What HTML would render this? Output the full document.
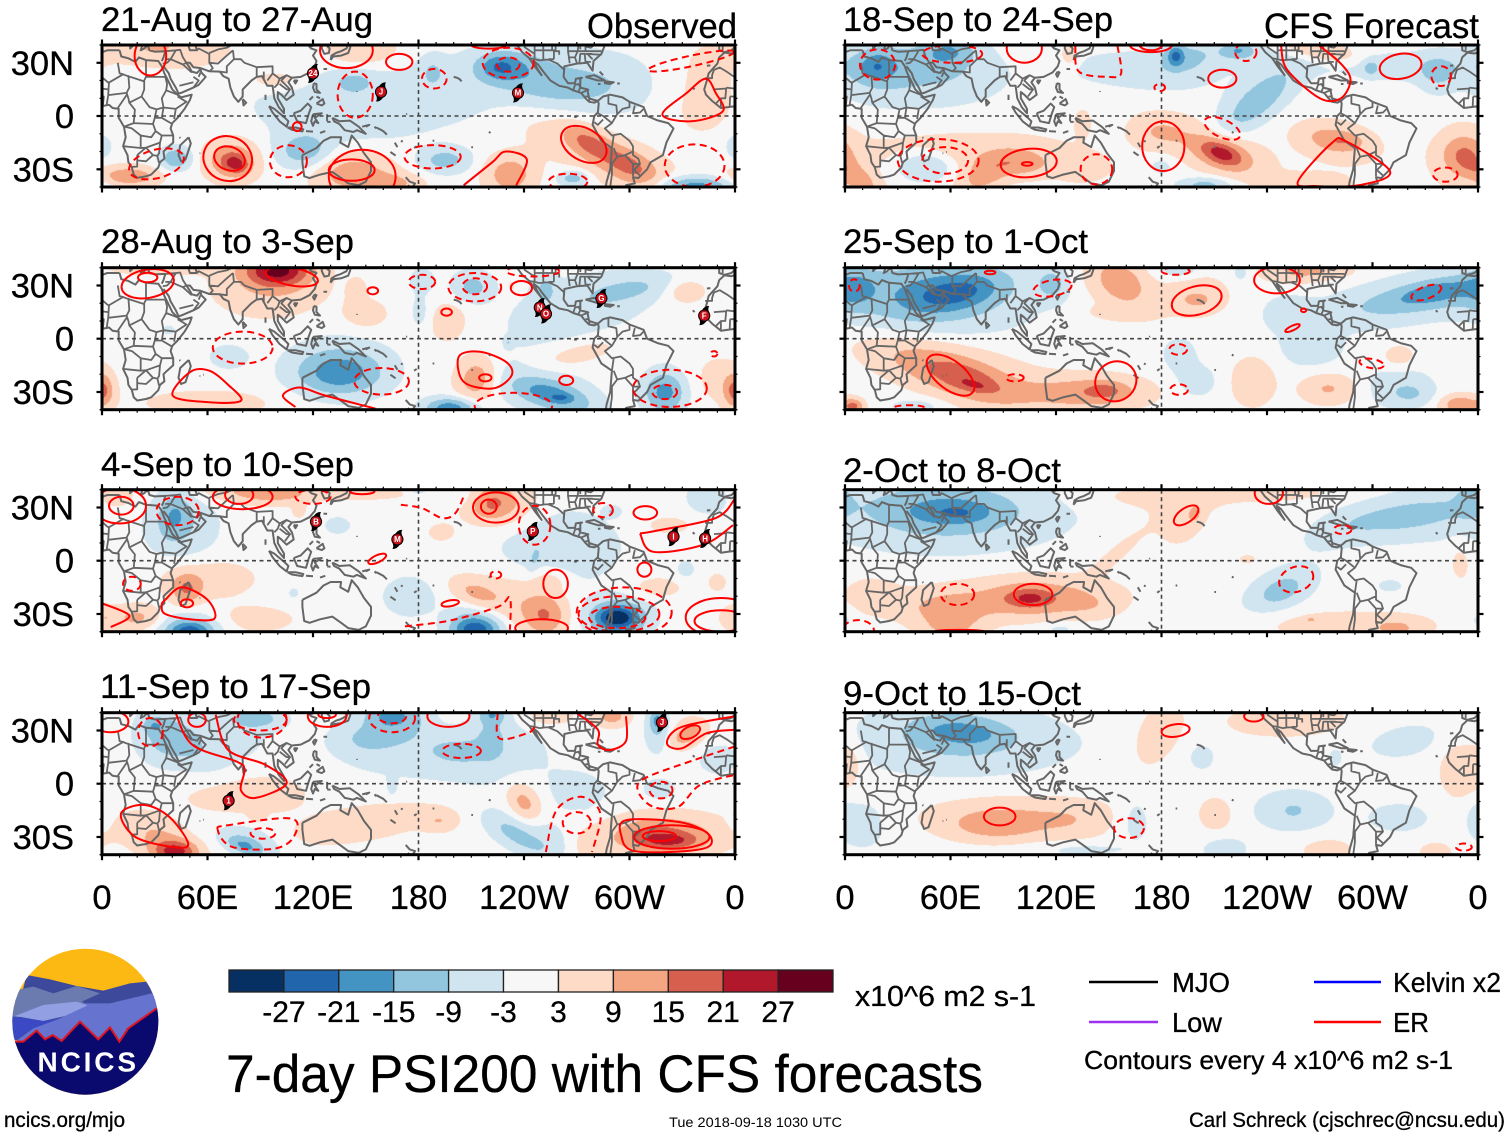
<!DOCTYPE html>
<html lang="en">
<head>
<meta charset="utf-8">
<title>7-day PSI200 with CFS forecasts</title>
<style>
html,body{margin:0;padding:0;background:#fff;}
#stage{position:relative;width:1510px;height:1137px;overflow:hidden;background:#fff;font-family:"Liberation Sans",sans-serif;}
#stage canvas{position:absolute;display:block;}
#overlay{position:absolute;left:0;top:0;}
#overlay text{font-family:"Liberation Sans",sans-serif;fill:#000;stroke:#000;stroke-width:.3;}
</style>
</head>
<body>
<div id="stage">
<svg id="overlay" width="1510" height="1137" viewBox="0 0 1510 1137" xmlns="http://www.w3.org/2000/svg">
  <defs>
    <clipPath id="logo-clip"><circle cx="85.3" cy="1021.7" r="73"/></clipPath>
  </defs>
  <g id="maps"></g>

  <text x="101" y="31" font-size="34" textLength="272" lengthAdjust="spacingAndGlyphs">21-Aug to 27-Aug</text>
  <text x="101" y="253" font-size="34" textLength="253" lengthAdjust="spacingAndGlyphs">28-Aug to 3-Sep</text>
  <text x="101" y="476" font-size="34" textLength="253" lengthAdjust="spacingAndGlyphs">4-Sep to 10-Sep</text>
  <text x="100" y="698" font-size="34" textLength="271" lengthAdjust="spacingAndGlyphs">11-Sep to 17-Sep</text>
  <text x="843" y="31" font-size="34" textLength="270" lengthAdjust="spacingAndGlyphs">18-Sep to 24-Sep</text>
  <text x="843" y="253" font-size="34" textLength="245" lengthAdjust="spacingAndGlyphs">25-Sep to 1-Oct</text>
  <text x="843" y="482" font-size="34" textLength="218" lengthAdjust="spacingAndGlyphs">2-Oct to 8-Oct</text>
  <text x="843" y="705" font-size="34" textLength="238" lengthAdjust="spacingAndGlyphs">9-Oct to 15-Oct</text>
  <text x="587" y="38" font-size="35" textLength="150" lengthAdjust="spacingAndGlyphs">Observed</text>
  <text x="1264" y="38" font-size="35" textLength="215" lengthAdjust="spacingAndGlyphs">CFS Forecast</text>

  <g id="colorbar"></g>
  <text x="855" y="1006" font-size="29" textLength="181" lengthAdjust="spacingAndGlyphs">x10^6 m2 s-1</text>
  <text x="226" y="1092" font-size="53" textLength="757" lengthAdjust="spacingAndGlyphs">7-day PSI200 with CFS forecasts</text>

  <g>
    <line x1="1089" y1="982" x2="1158" y2="982" stroke="#000" stroke-width="2.5"/>
    <text x="1172" y="992" font-size="28" textLength="58" lengthAdjust="spacingAndGlyphs">MJO</text>
    <line x1="1089" y1="1022" x2="1158" y2="1022" stroke="#a030f0" stroke-width="2.5"/>
    <text x="1172" y="1032" font-size="28" textLength="50" lengthAdjust="spacingAndGlyphs">Low</text>
    <line x1="1314" y1="982" x2="1381" y2="982" stroke="#0000ff" stroke-width="2.5"/>
    <text x="1393" y="992" font-size="28" textLength="108" lengthAdjust="spacingAndGlyphs">Kelvin x2</text>
    <line x1="1314" y1="1022" x2="1381" y2="1022" stroke="#ff0000" stroke-width="2.5"/>
    <text x="1393" y="1032" font-size="28" textLength="36" lengthAdjust="spacingAndGlyphs">ER</text>
    <text x="1084" y="1069" font-size="26" textLength="369" lengthAdjust="spacingAndGlyphs">Contours every 4 x10^6 m2 s-1</text>
  </g>

  <g clip-path="url(#logo-clip)">
    <g transform="translate(0,940) scale(0.3333)">
      <rect x="20" y="10" width="480" height="470" fill="#fdb913"/>
      <path d="M30,300 L80,105 L150,118 L230,138 L310,152 L390,130 L440,125 L490,200 L490,300Z" fill="#3d4a9c"/>
      <path d="M30,228 L50,150 L100,140 L160,160 L230,138 L300,160 L245,185 L265,195 L50,232Z" fill="#6b7bb0"/>
      <path d="M45,228 L130,195 L230,185 L265,197 L230,220 L130,243 Z" fill="#929fe2"/>
      <path d="M245,190 L330,190 L465,158 L490,210 L380,265 L360,310 L100,300 L45,305 L100,265 L180,235 L265,195Z" fill="#6674d0"/>
      <path d="M30,228 L130,243 L175,237 L100,265 L45,300 L30,290Z" fill="#3b49c5"/>
      <path d="M30,305 L70,305 L110,272 L135,298 L158,285 L185,303 L240,245 L295,298 L330,262 L358,305 L385,265 L470,205 L500,195 L500,480 L20,480Z" fill="#0a0a6e"/>
      <path d="M30,305 L70,305 L110,272 L135,298 L158,285 L185,303 L240,245 L295,298 L330,262 L358,305 L385,265 L470,205" fill="none" stroke="#e0141e" stroke-width="6"/>
    </g>
    <text x="37.5" y="1071.5" font-size="28" font-weight="bold" textLength="98.5" style="fill:#fff;stroke:none">NCICS</text>
  </g>

  <text x="4" y="1127" font-size="21" textLength="121" lengthAdjust="spacingAndGlyphs">ncics.org/mjo</text>
  <text x="669" y="1127" font-size="14" textLength="173" lengthAdjust="spacingAndGlyphs" style="stroke:none">Tue 2018-09-18 1030 UTC</text>
  <text x="1189" y="1127" font-size="21" textLength="316" lengthAdjust="spacingAndGlyphs">Carl Schreck (cjschrec@ncsu.edu)</text>
</svg>
</div>

<script>
/* ---------- colour scale ---------- */
const levelBounds = [-27,-21,-15,-9,-3,3,9,15,21,27];
const levelColors = ['#053061','#2166ac','#4393c3','#92c5de','#d1e5f0','#f7f7f7','#fddbc7','#f4a582','#d6604d','#b2182b','#67001f'];
const colorbarTicks = ['-27','-21','-15','-9','-3','3','9','15','21','27'];
const xTickLon = [0,60,120,180,240,300,360];
const xTickLabels = ['0','60E','120E','180','120W','60W','0'];
const yTickLat = [30,0,-30];
const yTickLabels = ['30N','0','30S'];

/* ---------- PSI200 anomaly centres: lon, lat, sigma-lon, sigma-lat, tilt, amplitude ---------- */
const fieldP1 = [
[74,-25,10.5,8,0,13],[76,-27,5,3.5,15,13],[15,-34,12,4,0,12],[42,-24,6,4.4,0,-13],[115,-20,11,7,0,-11],[140,5,35,13,0,-6.5],
[143,20,8,4,0,-6],[148,37,14,6,0,7],[40,37,25,8,0,5],[30,40,6,3,0,7],[100,20,12,4,0,5],[226,28,8,5,0,-12],[235,27,15,7,0,-7],
[265,17,18,6,0,-6],[255,18,50,14,0,-6.5],[188,25,5,6,0,-6],[195,-25,10,5,0,-10],[142,-32,16,8,0,11],[165,-38,12,4,0,8],
[277,-15,10,5,30,11],[300,-28,12,6,25,11],[280,-20,40,10,25,6],[232,-33,10,8,0,11],[268,-35,6,3,0,-11],[337,-40,14,4,0,-18],
[340,15,18,20,0,4.5],[360,-17,4,5,0,-6]
];
const fieldP2 = [
[100,39,12,6,0,26],[95,30,22,12,0,7],[30,40,20,3,0,5],[150,14,9,6,0,5],[145,28,4,5,0,4],[197,10,8,9,20,5],[233,30,2,3,0,4],
[211,29,6,5,0,-6],[210,30,10,7,0,-4],[182,33,5,5,0,-5],[181,15,4,7,0,-4],[252,28,4,5,0,-8],[300,28,18,5,-10,-7],[270,15,30,15,-15,-5],
[231,-2,1.5,2,0,-6],[332,27,8,5,0,6],[135,-20,16,8,0,-12],[135,-15,20,11,0,-7],[72,-10,8,5,0,-5],[38,5,3,2,0,-4],
[257,-32,15,5,15,-11],[250,-28,22,9,15,-7],[261,-33,4,1.3,0,-7],[198,-39,10,4,0,-18],[320,-30,8,8,0,-16],[213,-22,8,9,20,12],
[270,-8,22,6,-15,5],[0,-30,4,6,0,8],[360,-28,5,7,0,7],[60,-36,30,6,0,4],[350,-22,10,10,0,3.5]
];
const fieldP3 = [
[41,26,6,9,10,-9],[45,20,14,13,0,-7],[8,37,8,5,0,5],[100,38,15,4,0,8],[80,40,20,5,0,6],[112,28,3,3,0,4],[134,20,6,4,0,-4],
[150,38,20,3,0,4],[221,32,8,6,0,7],[225,33,15,9,0,9],[193,16,6,4,0,4],[260,8,25,15,0,-5.5],[246,1,2,5,15,-5],[180,40,4,2,0,-5],
[207,36,8,5,0,-4],[345,36,8,6,0,-7],[290,28,3,2,0,-7],[322,20,10,4,0,4],[332,-5,4,4,0,-4],[350,-12,4,4,0,4],[48,-16,6,6,0,12],
[60,-10,20,8,0,5],[50,-40,8,4,0,-18],[50,-38,14,7,0,-8],[20,-32,10,5,0,9],[0,-32,6,5,0,6],[85,-33,20,6,0,4],[175,-20,12,9,0,-4.5],
[109,-18,2,2,0,-5],[213,-39,9,5,0,-20],[210,-35,10,8,0,-7],[212,-18,10,5,20,7],[235,-22,20,10,15,6],[252,-31,8,8,0,11],
[293,-32,8,4.5,0,-24],[293,-32,13,8,0,-11],[255,-10,8,5,0,4.5],[315,-15,12,5,0,4]
];
const fieldP4 = [
[29,33,4,3,0,-7],[35,25,10,9,30,-6],[45,25,15,7,35,-5],[60,25,25,12,0,-4],[87,37,10,4,0,-11],[165,39,10,5,0,-10],[165,34,14,8,0,-5],
[150,25,10,5,0,-5],[170,22,30,13,0,-4.5],[222,39,5,3,0,-9],[222,30,7,12,0,-5],[203,18,10,4,0,-5],[220,17,25,13,0,-4.5],[199,38,5,3,0,4],
[290,38,7,4,0,10],[255,38,10,4,0,5],[316,36,3,4,0,-11],[316,30,5,9,0,-7],[333,28,6,3,-25,8],[333,28,9,7,-25,5],[350,14,8,6,0,-5],
[317,-3,6,4,0,-6],[275,-10,1.5,2,0,-4],[270,-5,14,9,0,-4],[165,-2,2,4,0,-4],[240,-11,5,7,-35,7],[240,-11,9,11,-35,4],[192,-21,7,4,0,6],
[150,-22,35,8,-10,4.5],[88,-17,3,3,0,5],[80,-8,25,7,0,4.5],[93,-2,13,5,0,3],[236,-29,12,4,30,-6],[236,-25,15,9,30,-5],[81,-35,7,3,20,-10],
[85,-33,13,6,15,-7],[42,-38,8,4,0,17],[35,-33,15,8,30,9],[325,-32,10,3,0,10],[320,-30,17,8,0,7],[310,-30,10,5,0,5],[320,-28,28,8,0,7],
[255,-33,8,8,0,-4],[280,-36,8,6,0,4],[360,-19,3,5,0,-4]
];
const fieldP5 = [
[18,28,6,5,0,-8],[20,28,15,10,0,-8],[59,37,10,5,0,-9],[55,30,15,9,0,-5],[45,22,35,13,0,-5],[188,34,3,4,0,-14],[192,33,10,6,0,-7],
[224,37,6,3,0,-9],[220,36,15,5,0,-5],[150,27,15,5,0,-3.5],[180,25,25,9,0,-4.5],[235,8,16,6,-40,-6],[235,10,25,9,-40,-6],[299,27,3,3,0,-8],
[337,24,7,7,0,-7],[320,28,35,6,0,-4.5],[270,37,14,4,10,9],[128,34,4,5,0,5],[214,-21,8,4,20,13],[214,-21,15,7,20,8],[205,-17,28,10,20,5],
[277,-13,12,5,10,6],[285,-14,7,3,0,4],[280,-15,18,9,10,5],[353,-23,8,7,30,8],[350,-22,11,13,30,6],[265,-38,15,4,0,6],[8,-36,10,5,30,10],
[80,-33,12,6,-30,9],[102,-27,10,5,0,7],[70,-22,45,9,0,6],[46,-28,12,6,0,-11],[135,-30,10,5,0,5],[180,-28,6,4,0,-4],[205,-39,10,3,0,-10],
[135,-3,4,6,0,3.5],[178,-9,10,6,0,5]
];
const fieldP6 = [
[64,26,16,6,-10,-10],[55,27,30,11,-10,-9],[50,22,38,15,0,-7],[5,28,8,8,0,-8],[118,31,6,6,0,-9],[157,33,10,7,30,9],[155,28,18,10,30,4.5],
[155,15,12,3,0,4],[200,22,6,3,0,5],[200,24,14,9,0,5],[190,39,7,3,0,-7],[225,37,3,3,0,-5],[336,27,13,4,-10,-7],[330,24,30,6,-10,-7],
[320,22,40,10,-10,-5],[252,15,10,7,0,-4.5],[255,38,13,5,0,7],[275,38,12,3,0,5],[70,-23,14,6,18,6],[60,-20,28,8,18,8],[60,-15,40,11,15,6],
[74,-26,6,1.5,10,5],[148,-29,7,3,0,7],[145,-30,17,6,0,6],[130,-30,30,7,0,6],[5,-38,4,3,0,14],[350,-37,8,4,0,12],[232,-24,9,10,0,6],
[275,-28,11,6,0,8],[322,-31,8,4,0,-5],[315,-27,14,9,0,-5],[190,-8,7,7,0,-4.5],[200,-24,9,7,0,-4.5],[40,-38,10,3,0,-5],[315,-10,7,5,0,5],[265,-6,13,8,0,-4.5]
];
const fieldP7 = [
[64,27,10,3,0,-5],[60,28,22,7,0,-7],[55,30,35,13,0,-6],[60,25,50,15,0,-4.5],[318,25,20,5,-8,-6],[320,25,32,10,-10,-5],[355,36,6,8,0,-5],
[282,18,15,6,-20,-3],[199,26,3,4,30,6],[190,25,12,14,30,4],[155,5,15,4,-40,3.5],[180,36,30,5,0,4],[240,38,25,3,0,4.5],[105,-21,7,3,0,8],
[105,-20,14,5.5,0,5],[110,-23,25,7,0,6],[110,-18,35,9,0,4.5],[60,-28,14,7,0,5],[60,-38,12,6,0,7],[50,-25,30,7,0,4.5],[15,-17,10,6,0,4],
[140,-25,10,5,0,3],[229,1,4,2,0,4],[248,-17,9,5,-20,-5],[248,-16,16,8,-25,-6],[310,-14,6,3,0,-3.5],[265,-33,2,1,0,6],[285,-36,35,6,0,4.5],
[314,-38,10,4,0,6],[350,0,5,9,0,3.5],[360,-33,4,4,0,-3.5],[122,-38,8,2.5,0,-3.5]
];
const fieldP8 = [
[68,29,13,4,5,-6],[65,30,22,8,5,-5],[60,28,32,12,0,-4.5],[70,22,50,13,0,-4],[2,12,5,8,0,4.5],[178,28,9,15,30,5],[203,15,5,5,0,-4.5],
[240,35,18,6,0,4.5],[265,37,14,6,0,4.5],[350,10,10,14,0,5],[318,24,14,6,-10,-4.5],[279,15,3,4,0,-3.5],[255,-15,4,2.5,0,-5],[255,-15,17,9,0,-5],
[315,-19,13,6,0,-4.5],[360,-19,4,6,0,-4.5],[87,-24,16,5,0,5],[85,-23,24,7,0,6],[100,-15,38,7,0,4],[130,-22,15,7,0,4.5],[10,-23,10,10,0,-4.5],
[165,-20,7,10,0,-4],[135,-37,18,3,0,-3.5],[211,-17,7,7,0,5],[216,-37,9,5,0,-5],[274,-37,11,5,0,4.5],[336,-38,7,4,0,4.5]
];

/* ---------- ER contours as ellipses: lon, lat, radius-lon, radius-lat, tilt, dashed ---------- */
const ovalsP1 = [
[27.5,33.8,9,11,0,0],[139,37,15,10,0,0],[169,30.5,7.5,4.5,0,0],[144,12,10,13,0,1],[189,21,7,5.5,0,1],[231,30,14.5,8.5,0,1],[231,29,6.5,4,0,1],
[220,40,10,2,0,0],[335,31,25,3,-12,1],[111,-6,2.5,2.5,0,0],[71.5,-24,14,12.5,20,0],[72.5,-24,9,6.6,20,0],[106,-25.5,10.5,9,0,1],[31,-27,16,8,-15,1],
[148,-34,19,15,0,0],[142,-30.5,13,6,0,0],[188,-23,16,6.6,0,1],[274,-16,14,9,30,0],[265,-37,11,4.5,0,1],[337,-28,17,12,0,1]
];
const ovalsP2 = [
[26,31,15,8,-10,0],[26,34.5,5.5,2.7,0,0],[108,35,15,5,10,0],[182,32,7.5,4,0,1],[212,29,15,8,0,1],[212,29.5,7,4.5,0,1],[245,38,15,3,0,1],
[238.5,28.5,6,4,0,0],[154,27,3,2,0,0],[196,15,3,2,0,0],[80,-5,17,9,0,1],[159,-24,15.5,7.5,0,1],[218,-22,3.5,2,0,0],[264,-23.5,4,2.6,0,0],
[234,-38,22,7.5,0,1],[323,-28,21,10.5,0,1],[320,-30,7,4,0,1],[348,-8.5,2,1.5,0,1]
];
const ovalsP3 = [
[10,31,15,10,0,0],[11,31,7,5,0,0],[43,28,12,8,0,1],[80,36,17,7,0,0],[78,37,8,5,0,0],[120,36,10,4,0,1],[148,39,7,1.5,0,0],[224,30,13,8.5,0,0],
[220,30.5,4.5,4,0,0],[246,20,9,11,0,1],[285,28.5,5.5,4,0,1],[309,27,6.7,3.8,0,0],[156.5,1,5.5,2,-25,0],[224,-8,3,2,0,1],
[258,-13,7,8,0,0],[308.5,-5,4,4,0,0],[17,-13,5,4,0,1],[48.3,-24,3.5,2.3,0,0],[198,-24,5,1.7,-10,0],[250,-38,15,5,0,0],[294,-30,23,10,0,1],
[293,-32,16,6,0,1],[297,-29,27,14,0,1],[352,-34,15,6,0,0],[352,-32,20,11,0,0]
];
const ovalsP4 = [
[5,35,10,6,0,0],[27.5,29,7,8,0,1],[54,36,5,4,0,0],[90,36,15,6,0,1],[91,36,14,10,0,1],[128,38,11,6,0,0],[128,39,5,2,0,0],[165,37,13,8,0,1],
[165,38,8,4,0,1],[197,38,12,6,0,0],[204.5,18.5,11,4,0,1],[334.5,29,6,3.2,-25,0],[318,-3.6,6.5,4.7,0,1],[270,-22,8,6,0,1],[91.5,-28,7,3,0,1],
[324,-30,21.5,6.6,0,0],[317,-29.5,9.5,2.8,0,0]
];
const ovalsP5 = [
[18.5,29,10,8.5,0,1],[61,35,17,5,0,1],[102,38,10,8,0,0],[174,40,12,4,0,0],[174,41,7,4,0,0],[179,16,3,2,0,1],[228,36,6,5,0,1],[214.6,21,8,5,0,0],
[316,28,12,7,-10,0],[339,22.5,5.5,5.6,0,1],[214.6,-7,11,5,25,1],[181,-17,12,14,0,0],[53,-25,23,12,0,1],[57,-25,13,7.5,0,1],[104.5,-26.5,16,8,-5,0],
[103.6,-27,3,1,0,0],[143,-30,9,8.5,0,1],[341.4,-33,7,4,0,1]
];
const ovalsP6 = [
[5.3,30,3,3.5,0,1],[82.5,37.3,3,1,0,0],[118,28.5,11,4.5,-10,1],[188,38,8,2,0,1],[200,21.5,14.5,8,-15,0],[245.7,33,13,7.5,0,0],[260.8,16,1.5,1,0,0],
[254.5,6,4.5,1.3,-25,0],[330.6,26,9,3.5,-20,1],[189.5,-6,5,3,0,1],[190,-28.7,5,3,0,1],[299.5,-14,7,2.6,10,1],[96.6,-22,5,2,0,1],[36.5,-39,9,1.5,0,1],
[60,-20.5,16,8,38,0],[154,-24,12,11,-35,0]
];
const ovalsP7 = [
[241,38,8,6,0,0],[194,25.5,8,4,-35,0],[283,17.5,5,2.5,0,1],[256.6,-10.5,10,7,-20,1],[64,-19,9.5,6,0,1],[107,-19,11,6,0,0],[7.5,-39.5,9,6,0,1],[65,-40,15,1,0,0]
];
const ovalsP8 = [
[188,30,8,3.5,-8,0],[232.5,38,5.5,3,0,0],[88,-18.5,9,5,0,0],[161.5,-25,8.5,5.6,0,1],[352,-35.7,4.5,2,0,1]
];

/* ---------- ER contours as curves: dashed flag, then lon/lat vertices ---------- */
const curvesP1 = [
[0,[[318.7,.8],[332.6,13],[343.3,21],[349,13],[353,2.6],[335,-3],[318.7,.8]]],
[0,[[205.7,-39],[222,-26],[229.6,-20],[241.6,-24.5],[235.6,-39]]]
];
const curvesP2 = [
[0,[[40.2,-32],[50.2,-18.7],[61,-18],[71.8,-26],[79,-35],[60,-35.7],[40.2,-32]]],
[0,[[110,-38.5],[102.9,-32],[112.4,-27.5],[126.8,-32],[155.5,-39.4]]],
[0,[[203,-10],[215,-7.4],[229.7,-13],[233,-20.6],[222.6,-28],[205.7,-24.3],[203,-10]]]
];
const curvesP3 = [
[1,[[170,31.5],[182,29.6],[193.6,24],[201,26.8],[206,37]]],
[0,[[306,15.3],[316,17],[349,24],[360,35]]],
[0,[[306,15.3],[313.5,5],[342,9],[358.8,20]]],
[0,[[36,-22],[45.5,-15],[60,-22],[64,-32.6],[50,-33],[36,-30],[34,-25],[36,-22]]],
[0,[[0,-24],[15.5,-31],[5,-37.4]]],
[1,[[172.3,-37],[198.5,-33.6],[225,-26],[232,-21],[232,-39]]]
];
const curvesP4 = [
[0,[[41.9,39.8],[51.4,21.9],[76.5,12.5],[81,7.7],[79,-3.6],[87.3,-8],[105,.2],[93,10.6],[71.8,19],[64.6,38.9]]],
[1,[[225,39.8],[226,25.5],[242,28.5],[246,32]]],
[0,[[270,39.8],[282,30.4],[282,21.9],[289,19],[298,24],[298,38]]],
[0,[[360,38],[333.7,33.2],[324,28.5],[321.6,21.9],[330,20],[344,28.5],[360,30.4]]],
[1,[[360,21],[337,13.4],[308.6,3],[305,-4.5],[313.4,-13],[327.7,-13],[340,-.8],[360,5]]],
[1,[[252.4,-38.5],[258.4,-15],[272.7,-7.4],[283.5,-17],[278.7,-38.5]]],
[1,[[65.8,-26],[71.8,-23.4],[107.6,-19.6],[109,-30],[98,-36.6],[74,-35.6],[65.8,-26]]],
[0,[[10.8,-16.8],[24,-12],[38.3,-18.7],[49,-33.8],[40.6,-35.7],[19,-30],[10.8,-16.8]]],
[0,[[297.8,-20.6],[327.8,-21.5],[344.5,-28],[344.5,-35.7],[323,-38.5],[301.4,-37.6],[295.5,-30],[297.8,-20.6]]]
];
const curvesP5 = [
[1,[[131,39.4],[133,25],[150,22],[157,24],[155,39.4]]],
[0,[[248,39.4],[251.5,26],[270,10],[282,10],[287.5,20.5],[281.5,30],[270,39.4]]],
[0,[[257.6,-37],[276.8,-15.3],[285,-14.3],[310,-31.3],[293,-38.9],[268,-39.5],[257.6,-37]]]
];
const curvesP6 = [];
const curvesP7 = [];
const curvesP8 = [];

/* ---------- tropical cyclone tracks: lon, lat, label ---------- */
const stormsP1 = [[120,24,'24'],[158.7,13.6,'J'],[236.6,13,'M']];
const stormsP2 = [[249,17.6,'N'],[252.5,14,'O'],[284,22.7,'G'],[342.5,13,'F']];
const stormsP3 = [[121.7,22,'B'],[168,12,'M'],[245,16.5,'P'],[325,13.6,'I'],[343,12.5,'H']];
const stormsP4 = [[72,-9.6,'1'],[318.5,34.6,'J']];
const stormsP5 = [];
const stormsP6 = [];
const stormsP7 = [];
const stormsP8 = [];

/* ---------- geography (lon, lat) ---------- */
const coastLines = [
[[10,37],[11,33.5],[15,32.5],[19,30.5],[21,33],[25,31.5],[32,31],[34,28],[35.5,24],[37,21],[38.5,18],[40,15],[43,12],[45,10.5],[51,12],[50,9],[47,4],[43,-1],[40,-4],[39,-7],[40.5,-11],[40.5,-15],[37,-18],[35,-20],[35.5,-24],[33,-26],[32,-29],[28,-33],[25,-34],[20,-34.8],[18,-33],[17,-29],[15,-26],[14.5,-22],[12,-17],[13.5,-12],[12.5,-6],[9.5,-1],[9.5,4],[6,4.5],[4,6.3],[0,5.5],[-4,5],[-8,4.5],[-13,8.5],[-16.5,12],[-17.5,15],[-16,20],[-15,24],[-10,29.5],[-9,33],[-6,35.7],[-2,35.2],[3,37],[10,37]],
[[-9,40],[-9,37],[-6,36],[-2,37],[0,39],[0.5,40]],[[16,40],[16,38],[18,40]],[[23,40],[22,37],[24,38],[26,40]],
[[26,40],[27,37],[30,36.2],[36,36.5],[35,33],[34,31]],
[[35,28],[38,24],[39,21],[42,16],[43.5,12.7],[45,13],[52,16],[55,17.5],[59,22],[56.5,24.5],[56,26.5],[54,24.2],[51,25],[50,27],[48,30],[50,30],[52,27.5],[56,27],[61,25.2],[67,25],[69,22.5],[72,21],[73,16],[75,11],[77.5,8],[80,11],[80,15],[85,20],[88,22],[91,22.5],[94,17],[97,17],[98,10],[100.5,5],[103.5,1.5],[103.5,4],[100,10],[100,13.5],[102,12],[105,9],[109,12],[108,16],[106,19],[108,21.5],[113,22],[118,24.5],[121,28],[122,31],[120,34],[122,37],[119,38],[118,39],[121,40],[125,40],[125,38],[126.5,35],[129,35.5],[129.5,38],[127.5,40]],
[[49,40],[50,37],[54,37],[53,40]],
[[95,5.5],[98,4],[104,-1],[106,-3],[105,-6],[101,-3],[97,2],[95,5.5]],[[105.5,-6.5],[110,-6.5],[114.5,-7.5],[114,-8.7],[108,-7.8],[105.5,-6.5]],
[[109,1.5],[113,3],[117,7],[119,5],[117.5,1],[116,-4],[111,-3],[109,1.5]],[[120,1],[125,1.5],[121,-1],[123,-4],[121,-3],[120,-5.5],[119,-3],[120,1]],
[[131,-1],[135,-3],[141,-2.6],[146,-6],[150,-10],[145,-8],[143,-9],[138,-8],[135,-4.5],[132,-3],[131,-1]],
[[120.5,18.5],[122,18],[122,15],[124,13],[121,13.5],[120,16],[120.5,18.5]],[[122,7],[125.5,9.5],[126.5,7],[125,6],[122,7]],[[118,9],[120,11]],[[122,11],[124,10]],
[[121,25],[122,24.5],[120.8,22],[120,23.5],[121,25]],[[130,31.5],[131.5,33.5],[136,34],[140,35.5],[141,38],[141.5,40],[140,40],[139,38],[136,36.5],[133,35.5],[130.5,34],[130,31.5]],
[[80,9.5],[82,7.5],[80.5,6],[80,9.5]],[[109,20],[111,20],[110,18.3],[109,20]],
[[49.3,-12],[50.5,-15.5],[47.5,-24.5],[45,-25.5],[43.5,-22],[44.5,-16.5],[49.3,-12]],
[[114,-22],[122,-18],[126,-14],[130,-12],[136,-12],[135.5,-15],[140,-17.5],[142,-11],[145.5,-15],[149,-21],[153,-26],[153,-31],[150,-37],[146,-39],[140,-38],[136,-35],[131,-31.5],[124,-33],[118,-35],[115,-34],[114,-26],[114,-22]],
[[172.7,-34.5],[175,-37],[178,-38],[176,-41],[174,-39]],
[[-124,40],[-121,36],[-117,32.5],[-114,28],[-110,23],[-112,26],[-114.5,31],[-112,29],[-109,25],[-105,20],[-100,17],[-95,16],[-92,14.5],[-87.5,13],[-85,10],[-83,8],[-80,7.5],[-78,8.5],[-80,9],[-83,10],[-84,15],[-88,16],[-88,21],[-87,21.5],[-90.5,21],[-91,18.5],[-95,18.5],[-97.5,22],[-97,28],[-90,29.5],[-84,30],[-81,25.5],[-80.5,31],[-76,35],[-74,40]],
[[-78,8.5],[-75,11],[-71,12],[-64,10.5],[-60,8],[-52,5],[-50,0],[-44,-2.5],[-38,-4],[-35,-7],[-39,-15],[-41,-22],[-48,-26],[-50,-30],[-55,-35],[-58,-34.5],[-57,-38],[-62,-39],[-62.5,-40.5],[-73.5,-40],[-73,-37],[-71,-30],[-70,-18],[-76,-14],[-81,-5],[-80,0],[-78,2],[-77.5,7],[-78,8.5]],
[[-85,22],[-80,23],[-74,20],[-78,20],[-85,22]],[[-74,19.5],[-69,19],[-71,18],[-74,18.5],[-74,19.5]],[[-67,18.3],[-65.5,18.3]],[[-78,18],[-76.5,18]],[[-77,25],[-75,23]],
[[-160,22],[-158,21.5],[-156.5,20.7],[-155.5,19.5]],[[164,-20.3],[167,-22.3]],[[166.5,-15],[168,-17.5]],[[177.5,-18],[179,-17]],[[156,-6.5],[160,-8.5],[162,-10.5]],
[[55.5,-21],[55.9,-21]],[[57.5,-20.3],[57.9,-20.3]],[[-140,-9],[-139,-9.5]],[[-91.5,-0.5],[-90,-0.5]],[[-16,28.3],[-14,28.5]],[[-24,16],[-23,15]],[[44,-12],[44.6,-12.4]],
[[93,12],[93,9]],[[124,-9.5],[127,-8.5]],[[116,-8.5],[120,-8.8]],[[128,1],[128,-3]],[[128,-3.2],[130,-3.4]],[[148,-6],[152,-5],[150,-6]],[[126,26.5],[128,26.5]],[[145,14],[145,13.5]],
[[155,-6],[156,-7]],[[170,-14],[171,-14.5]],[[-172,-14],[-171,-14]],[[-150,-17.5],[-149,-17.7]],[[173,1],[173.5,1.3]]
];
const borderLines = [
[[-17,21.3],[-13,21.3],[-13,23],[-12,26],[-8.7,27.3],[-4.8,25],[1,21],[3.3,19],[4.2,19],[12,23.5],[14,22.7],[24,19.5],[24,20],[25,22],[36,22]],
[[9,30],[10,24],[12,23.5]],[[25,22],[25,31.5]],[[24,20],[24,15],[22.5,11],[27,5],[31,3.7],[35,4.8],[42,4],[41,-1.7]],
[[15,23],[15.5,16],[14,13],[15,10],[15.5,7.5],[18.7,3.5],[18,-4],[12.5,-6]],[[4,19],[3.5,11.8],[2.7,6.3]],[[14,13],[3.5,11.8]],
[[-12,15],[-5,15.5],[-5.5,10],[-8,10],[-11,7]],[[3.5,15],[-5,16]],[[-2.8,11],[1,11],[0.5,6]],[[-2.8,11],[-3,5]],[[-8,10],[-8,5]],[[9,4.5],[14.5,12.5]],[[22.5,11],[15.5,7.5]],
[[36,22],[37,18],[36.5,14.5],[34,10],[35,4.8]],[[36.5,14.5],[43,12]],[[42,4],[48,8],[43,11]],[[35,4.8],[34,-1],[30,-1],[29,-4.5],[30.5,-8.5],[34,-11],[40.5,-11]],
[[34,-1],[40,-4.5]],[[30,-1],[31,3.7]],[[18,-4],[29,-4.5]],[[13,-6],[17,-7],[22,-11],[28,-12],[30.5,-8.5]],[[12,-17],[22,-18],[25,-17.8],[33,-15],[34,-11]],[[22,-11],[22,-18]],
[[25,-17.8],[29,-22],[31.5,-22.5],[32.5,-26.5]],[[20,-22],[20,-28.5],[17,-28.7]],[[20,-22],[25,-17.8]],[[33,-15],[32.5,-21],[31.5,-22.5]],[[29,-22],[25,-25.5],[20,-25]],
[[36,32],[39,32],[46,29],[48,30]],[[42,37],[39,32]],[[36,36.5],[42,37],[44.5,37.3],[46,33],[48,30]],[[34.5,29.5],[37,30],[39,32]],[[46,29],[51,24.5]],[[52,22],[55,20],[52,16]],[[44,17],[52,19]],[[55,22],[56,24.5]],
[[61,25],[63,27],[61,30],[61,35],[55,38],[54,37]],[[61,30],[66,29.5],[71,34],[74.5,37]],[[67,25],[71,24.5],[71,28],[75,32],[74.5,37]],[[61,35.5],[66,37.5],[71,38.5],[74,40]],
[[75,32],[79,32],[81,30],[88,27.5],[97,28],[97,24],[94,20]],[[88,27.5],[88,22]],[[92,25],[92,21]],[[97,24],[101,21],[100,18],[98,16]],[[101,21],[105,23],[108,21.5]],[[101,18],[105,15],[107,15],[104,11]],[[105,23],[102,20],[107,15]],[[-7,37],[-7,40]],
[[-114,37],[-102,37],[-102,40]],[[-114,32.5],[-114,40]],[[-109,31.3],[-109,40]],[[-103,32],[-103,37]],[[-117,32.5],[-114,32],[-111,31.3],[-108,31.7],[-106,31.7],[-101,29.5],[-97,26]],[[-104,37],[-104,40]],
[[-95,40],[-95,36.5],[-94.5,33.5],[-94,29.7]],[[-94.5,36.5],[-89.5,36.5],[-82,36.5],[-76,36.5]],[[-90,30],[-91,33],[-89.5,36.5],[-89,40]],[[-85,30.5],[-85.5,35],[-88,35],[-88.5,30]],[[-82,30.5],[-85,30.5]],
[[-81,32],[-84,35],[-76,34.5]],[[-103,32],[-106,32]],[[-100,34.5],[-100,36.5],[-103,36.5]],[[-94,33],[-91,33]],[[-85,35],[-81,35]],[[-84.5,39],[-82,38.5],[-80,40]],[[-85,40],[-85,36.7]],[[-88,37.5],[-88,40]],[[-120,39],[-114,35]],
[[-92,14.5],[-91,17.5],[-89,18],[-88,16]],[[-89,14],[-88,16]],[[-87.5,13],[-83,15]],[[-85,11],[-83.5,11]],[[-83,8.5],[-82.7,9.5]],
[[-72,12],[-72,7],[-67.5,6],[-67,1],[-70,-4],[-74,-7],[-70,-11],[-65,-10],[-60,-14],[-58,-17],[-58,-22],[-55,-24],[-54,-27],[-57.5,-30.5],[-53.5,-34]],[[-60,8],[-60,5],[-64,4],[-67,1]],[[-57,6],[-58,1.5],[-54,2],[-52,4]],
[[-78,1.5],[-75,0],[-70,-4]],[[-80,-3.5],[-78,-5],[-75,-2]],[[-70,-18],[-69,-11]],[[-69,-18],[-67,-23],[-70,-27],[-70,-33],[-71,-40]],[[-67,-23],[-62.5,-22],[-58,-20]],[[-62.5,-22],[-58,-27],[-54,-27]],[[-58,-27],[-58,-34]]
];

/* ---------- layout ---------- */
const PANEL_W = 633, PANEL_H = 142, HALF_H = 71;
const panelLeft = [102,102,102,102,845,845,845,845];
const panelEquator = [116,338.7,560.7,783.7,116,338.7,560.7,783.7];
const fields = [fieldP1,fieldP2,fieldP3,fieldP4,fieldP5,fieldP6,fieldP7,fieldP8];
const ovals = [ovalsP1,ovalsP2,ovalsP3,ovalsP4,ovalsP5,ovalsP6,ovalsP7,ovalsP8];
const curves = [curvesP1,curvesP2,curvesP3,curvesP4,curvesP5,curvesP6,curvesP7,curvesP8];
const storms = [stormsP1,stormsP2,stormsP3,stormsP4,stormsP5,stormsP6,stormsP7,stormsP8];

const NS = 'http://www.w3.org/2000/svg';
const xOf = lon => lon / 360 * PANEL_W;
const yOf = lat => HALF_H - lat / 40 * HALF_H;
const fmt = v => v.toFixed(1);

function mk(tag, attrs, parent) {
  const el = document.createElementNS(NS, tag);
  for (const k in attrs) el.setAttribute(k, attrs[k]);
  if (parent) parent.appendChild(el);
  return el;
}
function hexToRgb(h) {
  return [parseInt(h.slice(1,3),16),parseInt(h.slice(3,5),16),parseInt(h.slice(5,7),16)];
}
const rgbLevels = levelColors.map(hexToRgb);
function levelIndex(v) {
  let i = 0;
  while (i < levelBounds.length && v >= levelBounds[i]) i++;
  return i;
}
/* broadens the flanks of each anomaly while leaving the strongest values nearly unchanged */
function shapeValue(v) {
  const s = v < 0 ? -1 : 1;
  return s * 1.64 * Math.pow(Math.abs(v), 0.85);
}

function drawField(idx) {
  const c = document.createElement('canvas');
  c.width = PANEL_W;
  c.height = PANEL_H;
  c.style.left = panelLeft[idx] + 'px';
  c.style.top = (panelEquator[idx] - HALF_H) + 'px';
  
  
  document.getElementById('stage').insertBefore(c, document.getElementById('overlay'));
  const ctx = c.getContext('2d');
  const img = ctx.createImageData(PANEL_W, PANEL_H);
  const prepared = fields[idx].map(b => {
    const a = b[4] * Math.PI / 180;
    return [b[0], b[1], 1 / (b[2] * b[2]), 1 / (b[3] * b[3]), Math.cos(a), Math.sin(a), b[5]];
  });
  for (let y = 0; y < PANEL_H; y++) {
    const lat = 40 - (y + 0.5) / PANEL_H * 80;
    for (let x = 0; x < PANEL_W; x++) {
      const lon = (x + 0.5) / PANEL_W * 360;
      let v = 0;
      for (const p of prepared) {
        let dx = lon - p[0];
        if (dx > 180) dx -= 360;
        if (dx < -180) dx += 360;
        const dy = p[1] - lat;
        const u = dx * p[4] + dy * p[5];
        const w = -dx * p[5] + dy * p[4];
        const e = 0.5 * (u * u * p[2] + w * w * p[3]);
        if (e < 12) v += p[6] * Math.exp(-e);
      }
      const col = rgbLevels[levelIndex(shapeValue(v))];
      const o = (y * PANEL_W + x) * 4;
      img.data[o] = col[0];
      img.data[o + 1] = col[1];
      img.data[o + 2] = col[2];
      img.data[o + 3] = 255;
    }
  }
  ctx.putImageData(img, 0, 0);
}

function polyD(lines) {
  let d = '';
  for (const shift of [0, 360]) {
    for (const ln of lines) {
      ln.forEach((p, i) => {
        d += (i ? 'L' : 'M') + fmt(xOf(p[0] + shift)) + ',' + fmt(yOf(p[1]));
      });
    }
  }
  return d;
}
const coastD = polyD(coastLines);
const borderD = polyD(borderLines);

function smoothD(pts) {
  const closed = pts[0][0] === pts[pts.length - 1][0] && pts[0][1] === pts[pts.length - 1][1];
  const P = pts.map(p => [xOf(p[0]), yOf(p[1])]);
  const n = P.length;
  const at = i => {
    if (closed) return P[((i % (n - 1)) + (n - 1)) % (n - 1)];
    return P[Math.max(0, Math.min(n - 1, i))];
  };
  let d = 'M' + fmt(P[0][0]) + ',' + fmt(P[0][1]);
  for (let i = 0; i < n - 1; i++) {
    const p0 = at(i - 1), p1 = at(i), p2 = at(i + 1), p3 = at(i + 2);
    d += 'C' + fmt(p1[0] + (p2[0] - p0[0]) / 6) + ',' + fmt(p1[1] + (p2[1] - p0[1]) / 6) + ' ' +
         fmt(p2[0] - (p3[0] - p1[0]) / 6) + ',' + fmt(p2[1] - (p3[1] - p1[1]) / 6) + ' ' +
         fmt(p2[0]) + ',' + fmt(p2[1]);
  }
  return d;
}

function drawStorm(group, s) {
  const g = mk('g', {transform: 'translate(' + fmt(xOf(s[0])) + ',' + fmt(yOf(s[1])) + ')'}, group);
  
  
  mk('path', {d: 'M-2.5,-5 Q0.5,-10 5,-9.5 Q3,-7 5.5,-2 Z M2.5,5 Q-0.5,10 -5,9.5 Q-3,7 -5.5,2 Z', fill: '#000'}, g);
  mk('circle', {cx: 0, cy: 0, r: 5.6, fill: '#c8101a', stroke: '#000', 'stroke-width': 1}, g);
  const t = mk('text', {x: 0, y: 2.8, 'font-size': 8, 'font-weight': 'bold', 'text-anchor': 'middle', style: 'fill:#fff;stroke:none'}, g);
  t.textContent = s[2];
}

function drawPanel(idx) {
  const maps = document.getElementById('maps');
  const x0 = panelLeft[idx];
  const top = panelEquator[idx] - HALF_H;
  const id = 'clip-panel-' + idx;
  const cp = mk('clipPath', {id: id}, maps);
  mk('rect', {x: 0, y: 0, width: PANEL_W, height: PANEL_H}, cp);

  const g = mk('g', {transform: 'translate(' + x0 + ',' + top + ')'}, maps);
  
  

  const inner = mk('g', {'clip-path': 'url(#' + id + ')'}, g);

  const coast = mk('path', {d: coastD, fill: 'none', stroke: '#666', 'stroke-width': 2, 'stroke-linejoin': 'round'}, inner);
  
  
  const border = mk('path', {d: borderD, fill: 'none', stroke: '#666', 'stroke-width': 1.8, 'stroke-linejoin': 'round'}, inner);
  
  

  const eq = mk('line', {x1: xOf(0), x2: xOf(360), y1: yOf(0), y2: yOf(0), stroke: '#444', 'stroke-width': 1.6, 'stroke-dasharray': '4 3.5'}, inner);
  
  
  const dl = mk('line', {x1: xOf(180), x2: xOf(180), y1: yOf(40), y2: yOf(-40), stroke: '#444', 'stroke-width': 1.6, 'stroke-dasharray': '4 3.5'}, inner);
  
  

  for (const o of ovals[idx]) {
    const cx = xOf(o[0]), cy = yOf(o[1]);
    const e = mk('ellipse', {cx: fmt(cx), cy: fmt(cy), rx: fmt(o[2] / 360 * PANEL_W), ry: fmt(o[3] / 40 * HALF_H), transform: 'rotate(' + o[4] + ' ' + fmt(cx) + ' ' + fmt(cy) + ')', fill: 'none', stroke: '#f00', 'stroke-width': 2}, inner);
    if (o[5]) e.setAttribute('stroke-dasharray', '7 4.5');
    
    
  }
  for (const c of curves[idx]) {
    const p = mk('path', {d: smoothD(c[1]), fill: 'none', stroke: '#f00', 'stroke-width': 2}, inner);
    if (c[0]) p.setAttribute('stroke-dasharray', '7 4.5');
    
    
  }
  for (const s of storms[idx]) drawStorm(inner, s);

  const ticks = mk('g', {stroke: '#000', 'stroke-width': 1.3}, g);
  
  
  for (let lon = 0; lon <= 360; lon += 10) {
    const major = lon % 60 === 0;
    const len = major ? 5.5 : 3;
    mk('line', {x1: fmt(xOf(lon)), x2: fmt(xOf(lon)), y1: -len, y2: 0, 'stroke-width': major ? 2.2 : 1.2}, ticks);
    mk('line', {x1: fmt(xOf(lon)), x2: fmt(xOf(lon)), y1: PANEL_H, y2: PANEL_H + len, 'stroke-width': major ? 2.2 : 1.2}, ticks);
  }
  for (let lat = -40; lat <= 40; lat += 10) {
    const major = lat % 30 === 0;
    const len = major ? 5.5 : 2.5;
    mk('line', {x1: -len, x2: 0, y1: fmt(yOf(lat)), y2: fmt(yOf(lat)), 'stroke-width': major ? 2.2 : 1.2}, ticks);
    mk('line', {x1: PANEL_W, x2: PANEL_W + len, y1: fmt(yOf(lat)), y2: fmt(yOf(lat)), 'stroke-width': major ? 2.2 : 1.2}, ticks);
  }

  const frame = mk('rect', {x: 0, y: 0, width: PANEL_W, height: PANEL_H, fill: 'none', stroke: '#000', 'stroke-width': 3}, g);
  
  

  if (idx < 4) {
    yTickLat.forEach((lat, i) => {
      const t = mk('text', {x: 74 - x0, y: fmt(yOf(lat) + 12), 'font-size': 34.5, 'text-anchor': 'end'}, g);
      t.textContent = yTickLabels[i];
      
      
    });
  }
  if (idx === 3 || idx === 7) {
    xTickLon.forEach((lon, i) => {
      const t = mk('text', {x: fmt(xOf(lon)), y: 909 - top, 'font-size': 34.5, 'text-anchor': 'middle'}, g);
      t.textContent = xTickLabels[i];
      
      
    });
  }
}

function drawColorbar() {
  const g = document.getElementById('colorbar');
  const x0 = 229, w = (833 - 229) / levelColors.length;
  levelColors.forEach((col, i) => {
    const r = mk('rect', {x: fmt(x0 + i * w), y: 970, width: fmt(w), height: 22, fill: col, stroke: '#222', 'stroke-width': 1.3}, g);
    
    
  });
  colorbarTicks.forEach((label, i) => {
    const t = mk('text', {x: fmt(x0 + (i + 1) * w), y: 1022, 'font-size': 30, 'text-anchor': 'middle'}, g);
    t.textContent = label;
    
    
  });
}

for (let i = 0; i < 8; i++) {
  drawField(i);
  drawPanel(i);
}
drawColorbar();
</script>
</body>
</html>
